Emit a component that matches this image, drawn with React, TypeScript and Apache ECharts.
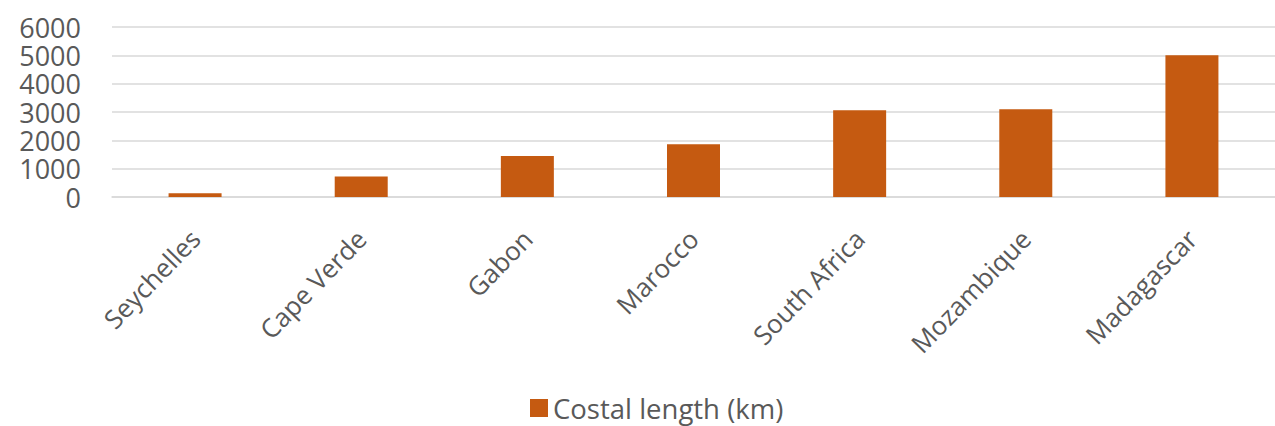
import React, { useEffect, useRef } from "react";
import * as echarts from "echarts";

const categories = ["Seychelles", "Cape Verde", "Gabon", "Marocco", "South Africa", "Mozambique", "Madagascar"];
const coastalLength = [130, 720, 1450, 1860, 3060, 3100, 5000];
const seriesName = "Costal length (km)";
const yMin = 0;
const yMax = 6000;
const yInterval = 1000;

export default function App() {
  const ref = useRef<HTMLDivElement>(null);
  useEffect(() => {
    if (!ref.current) return;
    const chart = echarts.init(ref.current, null, { renderer: "svg" });
    const font = "'Open Sans', 'Noto Sans', sans-serif";
    chart.setOption({
      animation: false,
      backgroundColor: "#ffffff",
      textStyle: { fontFamily: font },
      grid: { left: 112, top: 27, width: 1168, height: 170, containLabel: false },
      legend: {
        show: true,
        left: 530,
        top: 394,
        padding: 0,
        icon: "rect",
        itemWidth: 18,
        itemHeight: 18,
        itemGap: 11,
        textStyle: { fontFamily: font, fontSize: 27.5, color: "#595959", lineHeight: 28 },
        data: [seriesName],
      },
      xAxis: {
        type: "category",
        data: categories,
        axisLine: { show: true, lineStyle: { color: "#D9D9D9", width: 1.5 } },
        axisTick: { show: false },
        axisLabel: {
          interval: 0,
          rotate: 46,
          fontSize: 26,
          color: "#595959",
          fontFamily: font,
          margin: 37,
        },
      },
      yAxis: {
        type: "value",
        min: yMin,
        max: yMax,
        interval: yInterval,
        axisLine: { show: false },
        axisTick: { show: false },
        splitLine: { show: true, lineStyle: { color: "#D9D9D9", width: 1.5 } },
        axisLabel: {
          fontSize: 27,
          color: "#595959",
          fontFamily: font,
          margin: 31,
          lineHeight: 28,
          formatter: (v: number) => String(v),
        },
      },
      series: [
        {
          name: seriesName,
          type: "bar",
          data: coastalLength,
          barWidth: 53,
          itemStyle: { color: "#C55A11" },
        },
      ],
    });
    return () => chart.dispose();
  }, []);
  return <div ref={ref} style={{ position: "absolute", left: 0, top: 0, width: 1275, height: 426 }} />;
}
